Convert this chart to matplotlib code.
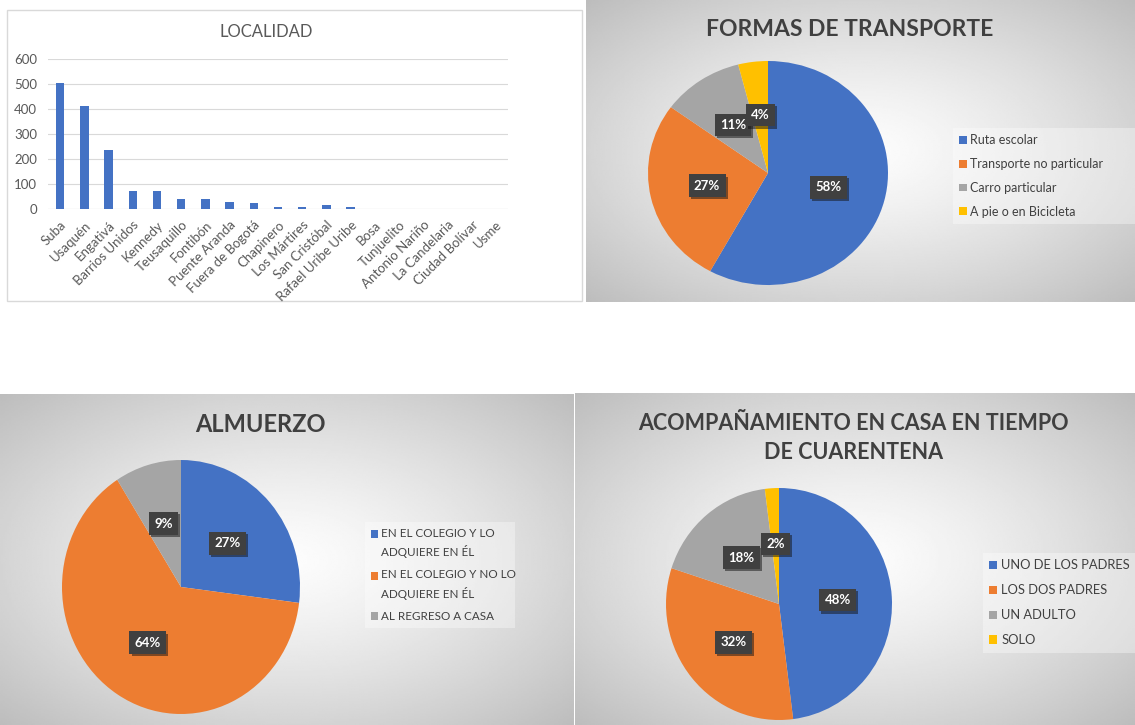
import numpy as np
import matplotlib
matplotlib.use('Agg')
from matplotlib import pyplot as plt
from matplotlib.patches import Patch, Rectangle
from matplotlib.legend_handler import HandlerPatch
import matplotlib.patheffects as pe

plt.rcParams['font.family'] = ['Lato', 'DejaVu Sans']

# --- data ---
localidades = ['Suba', 'Usaquén', 'Engativá', 'Barrios Unidos', 'Kennedy',
               'Teusaquillo', 'Fontibón', 'Puente Aranda', 'Fuera de Bogotá',
               'Chapinero', 'Los Mártires', 'San Cristóbal', 'Rafael Uribe Uribe',
               'Bosa', 'Tunjuelito', 'Antonio Nariño', 'La Candelaria',
               'Ciudad Bolívar', 'Usme']
loc_counts = [503, 414, 236, 71, 71, 39, 39, 27, 23, 9, 9, 15, 7, 0, 0, 0, 0, 0, 0]

transporte_labels = ['Ruta escolar', 'Transporte no particular',
                     'Carro particular', 'A pie o en Bicicleta']
transporte_pct = [58, 27, 11, 4]

almuerzo_labels = ['EN EL COLEGIO Y LO\nADQUIERE EN ÉL',
                   'EN EL COLEGIO Y NO LO\nADQUIERE EN ÉL',
                   'AL REGRESO A CASA']
almuerzo_pct = [27, 64, 9]

acomp_labels = ['UNO DE LOS PADRES', 'LOS DOS PADRES', 'UN ADULTO', 'SOLO']
acomp_pct = [48, 32, 18, 2]

colors = ['#4472C4', '#ED7D31', '#A5A5A5', '#FFC000']

W, H = 1135, 725
fig = plt.figure(figsize=(W / 100, H / 100), dpi=100)


def rect(x0, y0, x1, y1):
    # pixel box (top-left origin) -> figure fraction rect
    return [x0 / W, 1 - y1 / H, (x1 - x0) / W, (y1 - y0) / H]


def fx(x):
    return x / W


def fy(y):
    return 1 - y / H


def gradient_panel(x0, y0, x1, y1):
    ax = fig.add_axes(rect(x0, y0, x1, y1))
    ny, nx = 200, 300
    yy, xx = np.mgrid[-1:1:ny * 1j, -1:1:nx * 1j]
    d = np.sqrt(xx ** 2 + yy ** 2) / np.sqrt(2)
    g = 0.99 - 0.25 * d ** 1.3
    ax.imshow(g, cmap='gray', vmin=0, vmax=1, aspect='auto',
              extent=[0, 1, 0, 1], interpolation='bilinear')
    ax.set_axis_off()
    return ax


def pie_panel(box, values):
    ax = fig.add_axes(rect(*box))
    wedges, _, autotexts = ax.pie(values, colors=colors[:len(values)],
                                  startangle=90, counterclock=False,
                                  autopct='%d%%', pctdistance=0.52,
                                  radius=1, textprops=dict(color='white',
                                                           fontweight='bold',
                                                           fontsize=9.5))
    for w in wedges:
        w.set_edgecolor('none')
    for t in autotexts:
        t.set_bbox(dict(boxstyle='square,pad=0.4', facecolor='#404040',
                        edgecolor='none'))
        t.get_bbox_patch().set_path_effects(
            [pe.SimplePatchShadow(offset=(1.5, -1.5), alpha=0.5), pe.Normal()])
    ax.set_xlim(-1, 1)
    ax.set_ylim(-1, 1)
    ax.set_aspect('auto')
    return ax


def add_legend(labels, n, x, y, w, fs, spacing, linesp=1.2):
    handles = [Patch(facecolor=colors[i], edgecolor='none') for i in range(n)]
    hmap = {}
    for h, lab in zip(handles, labels):
        if '\n' in lab:
            # put the square next to the first line of a two-line entry
            shift = fs * linesp * 0.5

            def make(legend, orig_handle, xdescent, ydescent, width, height,
                     fontsize, s=shift):
                return Rectangle((-xdescent, -ydescent + s), width, height)
            hmap[h] = HandlerPatch(patch_func=make)
    leg = fig.legend(handles, labels, loc='upper left',
                     bbox_to_anchor=(fx(x), fy(y), w / W, 0.0001),
                     mode='expand', frameon=True, handler_map=hmap,
                     fontsize=fs, handlelength=0.6, handleheight=0.6,
                     handletextpad=0.3, labelspacing=spacing,
                     borderpad=0.5, borderaxespad=0, fancybox=False,
                     labelcolor='#404040')
    for t in leg.get_texts():
        t.set_linespacing(linesp)
    fr = leg.get_frame()
    fr.set_facecolor('white')
    fr.set_alpha(0.35)
    fr.set_edgecolor('none')
    return leg


# --- LOCALIDAD (bar chart) ---
fig.patches.append(Rectangle((fx(7), fy(301)), fx(582) - fx(7), fy(10) - fy(301),
                             transform=fig.transFigure, facecolor='white',
                             edgecolor='#d9d9d9', linewidth=1, zorder=-5))
axb = fig.add_axes(rect(48, 59, 508, 209))
x = np.arange(len(localidades))
axb.bar(x, loc_counts, width=0.35, color='#4472C4', zorder=3)
axb.set_xlim(-0.5, len(localidades) - 0.5)
axb.set_ylim(0, 600)
axb.set_yticks(range(0, 601, 100))
axb.set_xticks(x)
axb.set_xticklabels(localidades, rotation=45, ha='right',
                    rotation_mode='anchor', fontsize=9.5, color='#595959')
axb.tick_params(axis='y', labelsize=9.5, labelcolor='#595959', length=0, pad=8)
axb.tick_params(axis='x', length=0, pad=7)
axb.grid(axis='y', color='#d9d9d9', linewidth=0.8, zorder=0)
for s in axb.spines.values():
    s.set_visible(False)
axb.axhline(0, color='#d9d9d9', linewidth=0.8, zorder=2)
axb.set_facecolor('none')
fig.text(fx(266), fy(32), 'LOCALIDAD', ha='center', va='center',
         fontsize=12, color='#595959')

# --- FORMAS DE TRANSPORTE ---
gradient_panel(586, 0, 1135, 302)
pie_panel((648, 61, 888, 285), transporte_pct)
fig.text(fx(850), fy(30), 'FORMAS DE TRANSPORTE', ha='center', va='center',
         fontsize=16.5, fontweight='bold', color='#404040')
add_legend(transporte_labels, 4, 953, 128, 200, 9, 0.95)

# --- ALMUERZO ---
gradient_panel(0, 394, 574, 725)
pie_panel((62, 460, 300, 714), almuerzo_pct)
fig.text(fx(260), fy(425), 'ALMUERZO', ha='center', va='center',
         fontsize=17, fontweight='bold', color='#404040')
add_legend(almuerzo_labels, 3, 365, 522, 150, 8.4, 1.0, 1.55)

# --- ACOMPAÑAMIENTO ---
gradient_panel(575, 393, 1135, 725)
pie_panel((666, 488, 892, 720), acomp_pct)
fig.text(fx(853), fy(438), 'ACOMPAÑAMIENTO EN CASA EN TIEMPO\nDE CUARENTENA',
         ha='center', va='center', fontsize=15.5, fontweight='bold',
         color='#404040', linespacing=1.5)
add_legend(acomp_labels, 4, 983, 553, 200, 9.3, 1.0)

fig.savefig('out.png', dpi=100)
